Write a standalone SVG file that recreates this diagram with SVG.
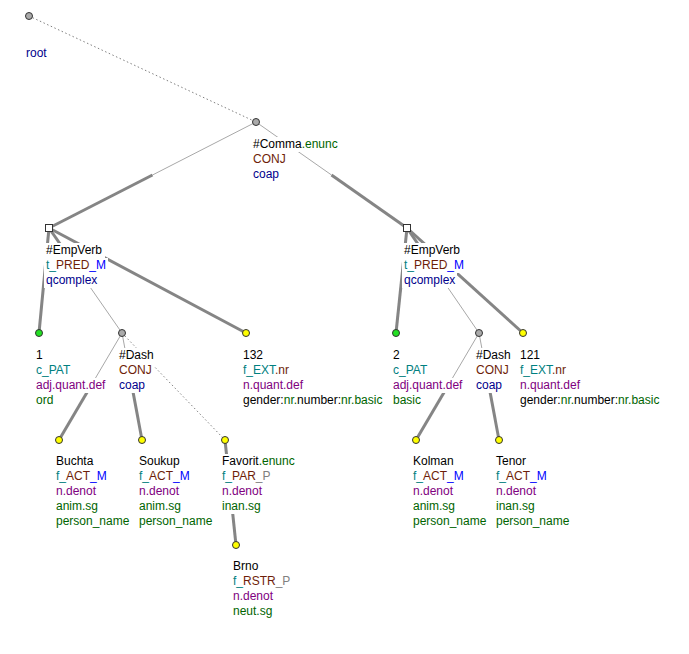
<svg xmlns="http://www.w3.org/2000/svg" width="689" height="654" viewBox="0 0 689 654">
<style>
text{font-family:"Liberation Sans",Arial,Helvetica,sans-serif;font-size:12px;fill:#000}
.tl{fill:#008080}.br{fill:#6e1e08}.bl{fill:#0000ff}.db{fill:#00008c}.pu{fill:#800080}.gr{fill:#006400}.gy{fill:#808080}
.bg{fill:#ffffff}
.thin{stroke:#a8a8a8;stroke-width:1;fill:none}
.thick{stroke:#858585;stroke-width:3;fill:none}
.dot{stroke:#808080;stroke-width:1;stroke-dasharray:1.5 2.5;fill:none}
.nd{stroke:#333;stroke-width:1}
.g{fill:#aaaaaa}.y{fill:#ffff00}.n{fill:#22e022}.sq{fill:#ffffff}
</style>
<rect width="689" height="654" fill="#ffffff"/>
<g id="connectors">
<line class="dot" x1="29" y1="16" x2="256" y2="122"/>
<line class="thin" x1="256" y1="122" x2="152.5" y2="175"/>
<line class="thick" x1="152.5" y1="175" x2="49" y2="228"/>
<line class="thin" x1="256" y1="122" x2="331.5" y2="175"/>
<line class="thick" x1="331.5" y1="175" x2="407" y2="228"/>
<line class="thick" x1="49" y1="228" x2="39" y2="333"/>
<line class="thick" x1="49" y1="228" x2="85.5" y2="280.5"/>
<line class="thin" x1="85.5" y1="280.5" x2="122" y2="333"/>
<line class="thick" x1="49" y1="228" x2="246" y2="333"/>
<line class="thin" x1="122" y1="333" x2="90.5" y2="386.5"/>
<line class="thick" x1="90.5" y1="386.5" x2="59" y2="440"/>
<line class="thin" x1="122" y1="333" x2="132" y2="386.5"/>
<line class="thick" x1="132" y1="386.5" x2="142" y2="440"/>
<line class="dot" x1="122" y1="333" x2="225" y2="440"/>
<line class="thick" x1="225" y1="440" x2="236" y2="545"/>
<line class="thick" x1="407" y1="228" x2="396" y2="333"/>
<line class="thick" x1="407" y1="228" x2="443" y2="280.5"/>
<line class="thin" x1="443" y1="280.5" x2="479" y2="333"/>
<line class="thick" x1="407" y1="228" x2="523" y2="333"/>
<line class="thin" x1="479" y1="333" x2="447.5" y2="386.5"/>
<line class="thick" x1="447.5" y1="386.5" x2="416" y2="440"/>
<line class="thin" x1="479" y1="333" x2="489" y2="386.5"/>
<line class="thick" x1="489" y1="386.5" x2="499" y2="440"/>
</g>
<g id="root">
<circle class="nd g" cx="29" cy="16" r="3.5"/>
<rect class="bg" x="24" y="46" width="25" height="15"/>
<text x="26" y="57" class="db">root</text>
</g>
<g id="comma">
<circle class="nd g" cx="256" cy="122" r="3.5"/>
<rect class="bg" x="251" y="137" width="89" height="15"/>
<rect class="bg" x="251" y="152" width="37" height="15"/>
<rect class="bg" x="251" y="167" width="30" height="15"/>
<text x="253" y="148">#Comma<tspan class="gr">.enunc</tspan></text>
<text x="253" y="163" class="br">CONJ</text>
<text x="253" y="178" class="db">coap</text>
</g>
<g id="empverb1">
<rect class="nd sq" x="45.5" y="224.5" width="7" height="7"/>
<rect class="bg" x="44" y="243" width="61" height="15"/>
<rect class="bg" x="44" y="258" width="64" height="15"/>
<rect class="bg" x="44" y="273" width="55" height="15"/>
<text x="46" y="254">#EmpVerb</text>
<text x="46" y="269"><tspan class="tl">t_</tspan><tspan class="br">PRED</tspan><tspan class="bl">_M</tspan></text>
<text x="46" y="284" class="db">qcomplex</text>
</g>
<g id="empverb2">
<rect class="nd sq" x="403.5" y="224.5" width="7" height="7"/>
<rect class="bg" x="402" y="243" width="61" height="15"/>
<rect class="bg" x="402" y="258" width="64" height="15"/>
<rect class="bg" x="402" y="273" width="55" height="15"/>
<text x="404" y="254">#EmpVerb</text>
<text x="404" y="269"><tspan class="tl">t_</tspan><tspan class="br">PRED</tspan><tspan class="bl">_M</tspan></text>
<text x="404" y="284" class="db">qcomplex</text>
</g>
<g id="n1">
<circle class="nd n" cx="39" cy="333" r="3.5"/>
<rect class="bg" x="34" y="348" width="11" height="15"/>
<rect class="bg" x="34" y="363" width="40" height="15"/>
<rect class="bg" x="34" y="378" width="74" height="15"/>
<rect class="bg" x="34" y="393" width="21" height="15"/>
<text x="36" y="359">1</text>
<text x="36" y="374" class="tl">c_PAT</text>
<text x="36" y="389" class="pu">adj.quant.def</text>
<text x="36" y="404" class="gr">ord</text>
</g>
<g id="dash1">
<circle class="nd g" cx="122" cy="333" r="3.5"/>
<rect class="bg" x="117" y="348" width="39" height="15"/>
<rect class="bg" x="117" y="363" width="37" height="15"/>
<rect class="bg" x="117" y="378" width="30" height="15"/>
<text x="119" y="359">#Dash</text>
<text x="119" y="374" class="br">CONJ</text>
<text x="119" y="389" class="db">coap</text>
</g>
<g id="n132">
<circle class="nd y" cx="246" cy="333" r="3.5"/>
<rect class="bg" x="241" y="348" width="24" height="15"/>
<rect class="bg" x="241" y="363" width="51" height="15"/>
<rect class="bg" x="241" y="378" width="64" height="15"/>
<rect class="bg" x="241" y="393" width="145" height="15"/>
<text x="243" y="359">132</text>
<text x="243" y="374"><tspan class="tl">f_EXT</tspan><tspan class="br">.nr</tspan></text>
<text x="243" y="389" class="pu">n.quant.def</text>
<text x="243" y="404">gender:<tspan class="gr">nr.</tspan>number:<tspan class="gr">nr.basic</tspan></text>
</g>
<g id="n2">
<circle class="nd n" cx="396" cy="333" r="3.5"/>
<rect class="bg" x="391" y="348" width="11" height="15"/>
<rect class="bg" x="391" y="363" width="40" height="15"/>
<rect class="bg" x="391" y="378" width="74" height="15"/>
<rect class="bg" x="391" y="393" width="32" height="15"/>
<text x="393" y="359">2</text>
<text x="393" y="374" class="tl">c_PAT</text>
<text x="393" y="389" class="pu">adj.quant.def</text>
<text x="393" y="404" class="gr">basic</text>
</g>
<g id="dash2">
<circle class="nd g" cx="479" cy="333" r="3.5"/>
<rect class="bg" x="474" y="348" width="39" height="15"/>
<rect class="bg" x="474" y="363" width="37" height="15"/>
<rect class="bg" x="474" y="378" width="30" height="15"/>
<text x="476" y="359">#Dash</text>
<text x="476" y="374" class="br">CONJ</text>
<text x="476" y="389" class="db">coap</text>
</g>
<g id="n121">
<circle class="nd y" cx="523" cy="333" r="3.5"/>
<rect class="bg" x="518" y="348" width="24" height="15"/>
<rect class="bg" x="518" y="363" width="51" height="15"/>
<rect class="bg" x="518" y="378" width="64" height="15"/>
<rect class="bg" x="518" y="393" width="145" height="15"/>
<text x="520" y="359">121</text>
<text x="520" y="374"><tspan class="tl">f_EXT</tspan><tspan class="br">.nr</tspan></text>
<text x="520" y="389" class="pu">n.quant.def</text>
<text x="520" y="404">gender:<tspan class="gr">nr.</tspan>number:<tspan class="gr">nr.basic</tspan></text>
</g>
<g id="buchta">
<circle class="nd y" cx="59" cy="440" r="3.5"/>
<rect class="bg" x="54" y="454" width="42" height="15"/>
<rect class="bg" x="54" y="469" width="55" height="15"/>
<rect class="bg" x="54" y="484" width="44" height="15"/>
<rect class="bg" x="54" y="499" width="46" height="15"/>
<rect class="bg" x="54" y="514" width="78" height="15"/>
<text x="56" y="465">Buchta</text>
<text x="56" y="480"><tspan class="tl">f_</tspan><tspan class="br">ACT</tspan><tspan class="bl">_M</tspan></text>
<text x="56" y="495" class="pu">n.denot</text>
<text x="56" y="510" class="gr">anim.sg</text>
<text x="56" y="525" class="gr">person_name</text>
</g>
<g id="soukup">
<circle class="nd y" cx="142" cy="440" r="3.5"/>
<rect class="bg" x="137" y="454" width="45" height="15"/>
<rect class="bg" x="137" y="469" width="55" height="15"/>
<rect class="bg" x="137" y="484" width="44" height="15"/>
<rect class="bg" x="137" y="499" width="46" height="15"/>
<rect class="bg" x="137" y="514" width="78" height="15"/>
<text x="139" y="465">Soukup</text>
<text x="139" y="480"><tspan class="tl">f_</tspan><tspan class="br">ACT</tspan><tspan class="bl">_M</tspan></text>
<text x="139" y="495" class="pu">n.denot</text>
<text x="139" y="510" class="gr">anim.sg</text>
<text x="139" y="525" class="gr">person_name</text>
</g>
<g id="favorit">
<circle class="nd y" cx="225" cy="440" r="3.5"/>
<rect class="bg" x="220" y="454" width="77" height="15"/>
<rect class="bg" x="220" y="469" width="54" height="15"/>
<rect class="bg" x="220" y="484" width="44" height="15"/>
<rect class="bg" x="220" y="499" width="43" height="15"/>
<text x="222" y="465">Favorit<tspan class="gr">.enunc</tspan></text>
<text x="222" y="480"><tspan class="tl">f_</tspan><tspan class="br">PAR</tspan><tspan class="gy">_P</tspan></text>
<text x="222" y="495" class="pu">n.denot</text>
<text x="222" y="510" class="gr">inan.sg</text>
</g>
<g id="brno">
<circle class="nd y" cx="236" cy="545" r="3.5"/>
<rect class="bg" x="231" y="559" width="30" height="15"/>
<rect class="bg" x="231" y="574" width="62" height="15"/>
<rect class="bg" x="231" y="589" width="44" height="15"/>
<rect class="bg" x="231" y="604" width="44" height="15"/>
<text x="233" y="570">Brno</text>
<text x="233" y="585"><tspan class="tl">f_</tspan><tspan class="br">RSTR</tspan><tspan class="gy">_P</tspan></text>
<text x="233" y="600" class="pu">n.denot</text>
<text x="233" y="615" class="gr">neut.sg</text>
</g>
<g id="kolman">
<circle class="nd y" cx="416" cy="440" r="3.5"/>
<rect class="bg" x="411" y="454" width="45" height="15"/>
<rect class="bg" x="411" y="469" width="55" height="15"/>
<rect class="bg" x="411" y="484" width="44" height="15"/>
<rect class="bg" x="411" y="499" width="46" height="15"/>
<rect class="bg" x="411" y="514" width="78" height="15"/>
<text x="413" y="465">Kolman</text>
<text x="413" y="480"><tspan class="tl">f_</tspan><tspan class="br">ACT</tspan><tspan class="bl">_M</tspan></text>
<text x="413" y="495" class="pu">n.denot</text>
<text x="413" y="510" class="gr">anim.sg</text>
<text x="413" y="525" class="gr">person_name</text>
</g>
<g id="tenor">
<circle class="nd y" cx="499" cy="440" r="3.5"/>
<rect class="bg" x="494" y="454" width="36" height="15"/>
<rect class="bg" x="494" y="469" width="55" height="15"/>
<rect class="bg" x="494" y="484" width="44" height="15"/>
<rect class="bg" x="494" y="499" width="43" height="15"/>
<rect class="bg" x="494" y="514" width="78" height="15"/>
<text x="496" y="465">Tenor</text>
<text x="496" y="480"><tspan class="tl">f_</tspan><tspan class="br">ACT</tspan><tspan class="bl">_M</tspan></text>
<text x="496" y="495" class="pu">n.denot</text>
<text x="496" y="510" class="gr">inan.sg</text>
<text x="496" y="525" class="gr">person_name</text>
</g>
</svg>
